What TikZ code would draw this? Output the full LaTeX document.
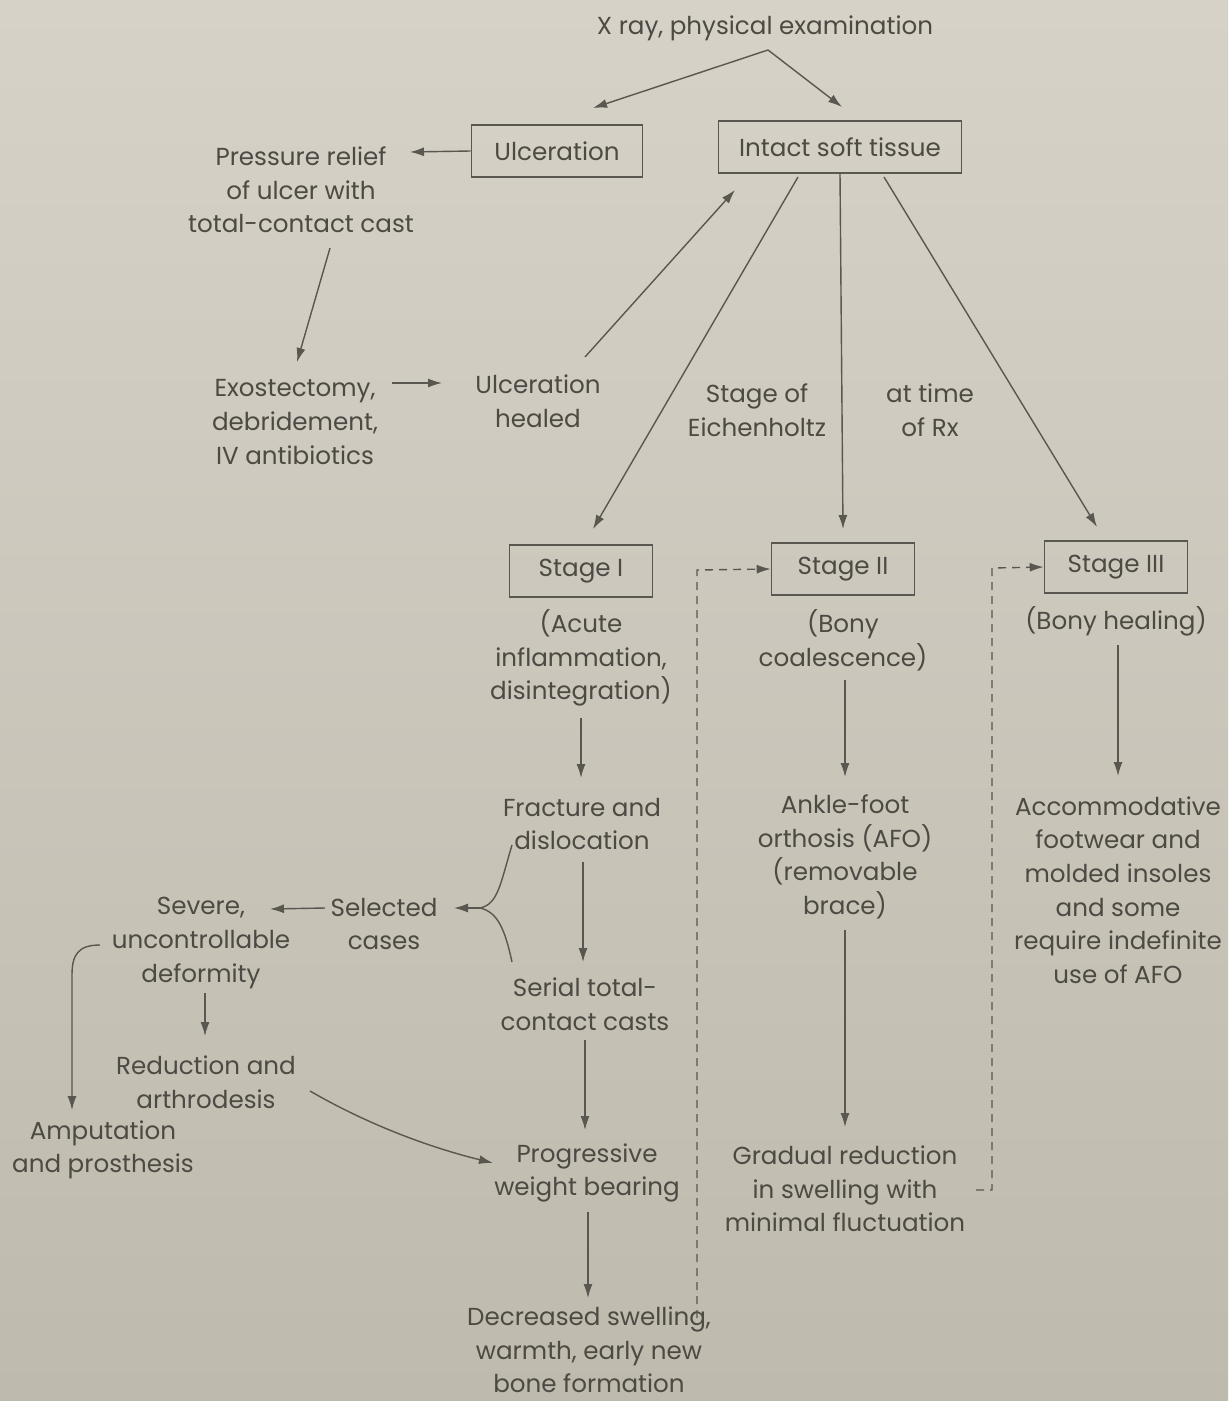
\documentclass[tikz,border=0pt]{standalone}
\usepackage{fontspec}
\setmainfont{Poppins}
\usetikzlibrary{arrows.meta}
\definecolor{bgtop}{HTML}{D6D2C8}
\definecolor{bgbot}{HTML}{BEBAAD}
\definecolor{ink}{HTML}{4D4943}
\definecolor{wire}{HTML}{5A5650}
\begin{document}
\begin{tikzpicture}[x=0.5pt,y=-0.5pt,
  every node/.style={text=ink,font=\fontsize{12.3pt}{16.8pt}\selectfont},
  lbl/.style={align=center,inner sep=0pt},
  boxed/.style={draw=wire,line width=0.8pt,minimum height=26pt,inner sep=0pt,align=center},
  conn/.style={draw=wire,line width=0.7pt,-{Latex[length=7pt,width=4.5pt]}},
  plain/.style={draw=wire,line width=0.7pt},
  dconn/.style={draw=wire,line width=0.7pt,dash pattern=on 4pt off 3pt,-{Latex[length=7pt,width=4.5pt]}}]
\shade[top color=bgtop,bottom color=bgbot] (0,0) rectangle (1228,1401);
\useasboundingbox (0,0) rectangle (1228,1401);

\node[lbl] (xray) at (765,28) {X ray, physical examination};
\node[boxed,minimum width=85.5pt] (ulc) at (557,151) {Ulceration};
\node[boxed,minimum width=121.5pt] (intact) at (840,147) {Intact soft tissue};
\node[lbl] (press) at (301,190) {Pressure relief\\of ulcer with\\total-contact cast};
\node[lbl] (exo) at (295,422) {Exostectomy,\\debridement,\\IV antibiotics};
\node[lbl] (healed) at (538,401) {Ulceration\\healed};
\node[lbl] (eich) at (757,410) {Stage of\\Eichenholtz};
\node[lbl] (rx) at (930,410) {at time\\of Rx};

\node[boxed,minimum width=71.5pt] (s1) at (581,571) {Stage I};
\node[boxed,minimum width=71.5pt] (s2) at (843,569) {Stage II};
\node[boxed,minimum width=71.5pt] (s3) at (1116,567) {Stage III};
\node[lbl] (s1d) at (581,658) {(Acute\\inflammation,\\disintegration)};
\node[lbl] (s2d) at (843,640) {(Bony\\coalescence)};
\node[lbl] (s3d) at (1116,621) {(Bony healing)};

\node[lbl] (frac) at (582,824) {Fracture and\\dislocation};
\node[lbl] (serial) at (585,1004) {Serial total-\\contact casts};
\node[lbl] (sel) at (384,924) {Selected\\cases};
\node[lbl] (sev) at (201,943) {Severe,\\uncontrollable\\deformity};
\node[lbl] (red) at (206,1082) {Reduction and\\arthrodesis};
\node[lbl] (amp) at (103,1150) {Amputation\\and prosthesis};
\node[lbl] (prog) at (587,1173) {Progressive\\weight bearing};
\node[lbl] (dec) at (589,1350) {Decreased swelling,\\warmth, early new\\bone formation};

\node[lbl] (afo) at (845,857) {Ankle-foot\\orthosis (AFO)\\(removable\\brace)};
\node[lbl] (grad) at (845,1189) {Gradual reduction\\in swelling with\\minimal fluctuation};
\node[lbl] (acc) at (1118,890) {Accommodative\\footwear and\\molded insoles\\and some\\require indefinite\\use of AFO};

% coordinates
\coordinate (xr) at (768,50);
\coordinate (br) at (480,908);
\coordinate (selin) at (454,908);
\coordinate (selout) at (325,908);
\coordinate (sevin) at (270,909);
\coordinate (d1) at (697,1318);
\coordinate (d1t) at (697,570);
\coordinate (d2) at (976,1190);
\coordinate (d2c) at (992,1190);
\coordinate (d2t) at (992,568);
\coordinate (amptop) at (72,1110);

% top
\draw[conn] (xr) -- (593,108);
\draw[conn] (xr) -- (842,107);
\draw[conn] (ulc.west) -- (410,152);
\draw[conn] (330,248) -- (297,362);
\draw[conn] (392,383) -- (442,383);
\draw[conn] (585,357) -- (735,190);
\draw[conn] (798,177) -- (593,529);
\draw[conn] (intact.south) -- (843,529);
\draw[conn] (884,177) -- (1097,527);

% stage I column
\draw[conn] (581,718) -- (581,778);
\draw[conn] (583,862) -- (583,962);
\draw[conn] (585,1040) -- (585,1130);
\draw[conn] (588,1212) -- (588,1298);
% brace
\draw[plain] (512,845) .. controls (500,885) and (498,904) .. (br);
\draw[plain] (512,962) .. controls (505,930) and (498,912) .. (br);
\draw[conn] (br) -- (selin);
\draw[conn] (selout) -- (sevin);
\draw[conn] (205,993) -- (205,1036);
\draw[conn] (100,945) .. controls (78,945) and (72,955) .. (72,975) -- (amptop);
\draw[conn] (310,1091) .. controls (360,1120) and (420,1145) .. (493,1163);

% stage II / III
\draw[conn] (845,680) -- (845,777);
\draw[conn] (845,930) -- (845,1127);
\draw[conn] (1118,645) -- (1118,776);

% dashed feedback
\draw[dconn] (d1) -- (d1t) -- (s2.west);
\draw[dconn] (d2) -- (d2c) -- (d2t) -- (s3.west);
\end{tikzpicture}
\end{document}
